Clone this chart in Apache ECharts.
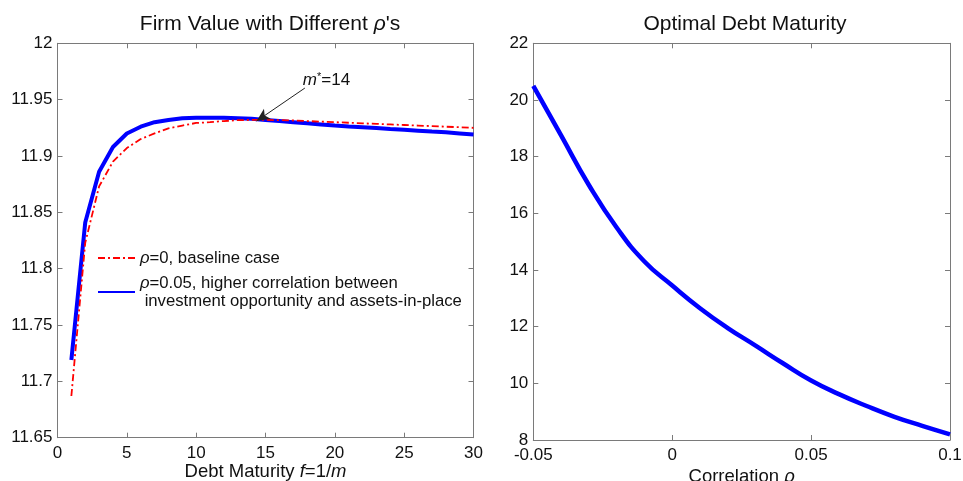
<!DOCTYPE html>
<html><head><meta charset="utf-8">
<script src="https://cdn.jsdelivr.net/npm/echarts@6/dist/echarts.min.js"></script>
<style>html,body{margin:0;padding:0;background:#fff}#c{width:963px;height:481px}</style>
</head><body><div id="c"></div>
<script>
// Left panel: firm value vs debt maturity m
const maturity = [1,2,3,4,5,6,7,8,9,10,11,12,13,14,15,16,17,18,19,20,21,22,23,24,25,26,27,28,29,30];
const firmValueRho0 = [11.687,11.823,11.873,11.895,11.907,11.915,11.920,11.9245,11.927,11.9293,11.930,11.931,11.9318,11.932,11.932,11.9318,11.9315,11.931,11.9305,11.930,11.9295,11.929,11.9285,11.928,11.9275,11.927,11.9265,11.926,11.9255,11.925];
const firmValueRho005 = [11.719,11.841,11.886,11.908,11.920,11.926,11.930,11.932,11.9335,11.934,11.934,11.934,11.9335,11.933,11.932,11.931,11.930,11.929,11.928,11.927,11.9262,11.9255,11.9248,11.924,11.9233,11.9225,11.9217,11.921,11.920,11.919];
// Right panel: optimal debt maturity vs correlation rho
const correlation = [-0.05,-0.04,-0.03,-0.02,-0.01,0,0.01,0.02,0.03,0.04,0.05,0.06,0.07,0.08,0.09,0.1];
const optimalMaturity = [20.5,18.75,17.0,15.5,14.3,13.45,12.65,11.95,11.33,10.7,10.1,9.62,9.2,8.82,8.5,8.2];
// Tick settings
const leftYTicks = {min:11.65, max:12, interval:0.05};
const leftXTicks = {min:0, max:30, interval:5};
const rightYTicks = {min:8, max:22, interval:2};
const rightXTicks = {min:-0.05, max:0.1, interval:0.05};
const annotation = {text:'m*=14', labelAt:[19.4, 11.9668], arrowFrom:[17.84, 11.9603], arrowTo:[14.36, 11.931]};

const FONT = '"Liberation Sans", Arial, sans-serif';
const AX = '#7a7a7a';
const fmt = v => String(parseFloat(v.toFixed(3)));
const lbl = {color:'#111', fontSize:17, fontFamily:FONT};

function mainX(grid, t, name, gap){
  return {type:'value', gridIndex:grid, min:t.min, max:t.max, interval:t.interval, position:'bottom',
    axisLine:{show:true, onZero:false, lineStyle:{color:AX, width:1}}, axisTick:{show:true, inside:true, length:5, lineStyle:{color:AX}},
    axisLabel:Object.assign({formatter:fmt, margin:7}, lbl), splitLine:{show:false},
    name:name, nameLocation:'middle', nameGap:gap, nameMoveOverlap:false,
    nameTextStyle:{color:'#111', fontSize:18.5, fontFamily:FONT, rich:{i:{fontStyle:'italic', fontSize:18.5, fontFamily:FONT, color:'#111'}}}};
}
function topX(grid, t){
  return {type:'value', gridIndex:grid, min:t.min, max:t.max, interval:t.interval, position:'top',
    axisLine:{show:true, onZero:false, lineStyle:{color:AX}}, axisTick:{show:true, inside:true, length:5, lineStyle:{color:AX}},
    axisLabel:{show:false}, splitLine:{show:false}};
}
function mainY(grid, t){
  return {type:'value', gridIndex:grid, min:t.min, max:t.max, interval:t.interval, position:'left',
    axisLine:{show:true, onZero:false, lineStyle:{color:AX}}, axisTick:{show:true, inside:true, length:5, lineStyle:{color:AX}},
    axisLabel:Object.assign({formatter:fmt, margin:5}, lbl), splitLine:{show:false}};
}
function rightY(grid, t){
  return {type:'value', gridIndex:grid, min:t.min, max:t.max, interval:t.interval, position:'right',
    axisLine:{show:true, onZero:false, lineStyle:{color:AX}}, axisTick:{show:true, inside:true, length:5, lineStyle:{color:AX}},
    axisLabel:{show:false}, splitLine:{show:false}};
}

const chart = echarts.init(document.getElementById('c'), null, {renderer:'canvas'});
chart.setOption({
  backgroundColor:'#fff',
  animation:false,
  title:[
    {text:'Firm Value with Different {i|ρ}\'s', left:265, top:9, textAlign:'center',
     textStyle:{fontSize:21, fontWeight:'normal', color:'#111', fontFamily:FONT, rich:{i:{fontStyle:'italic', fontSize:21, color:'#111', fontFamily:FONT}}}},
    {text:'Optimal Debt Maturity', left:740, top:9, textAlign:'center',
     textStyle:{fontSize:21, fontWeight:'normal', color:'#111', fontFamily:FONT}}
  ],
  grid:[
    {left:57.5, right:489.5, top:43.3, bottom:43.3, outerBoundsMode:'none', containLabel:false},
    {left:533.3, right:13, top:43.3, bottom:41, outerBoundsMode:'none', containLabel:false}
  ],
  legend:{
    orient:'vertical', left:97, top:249, padding:0, itemWidth:37, itemHeight:10, itemGap:7,
    data:['rho0','rho005'],
    itemStyle:{opacity:0},
    formatter: n => n==='rho0' ? '{i|ρ}=0, baseline case' : '{i|ρ}=0.05, higher correlation between\n investment opportunity and assets-in-place',
    textStyle:{fontSize:16.7, color:'#111', fontFamily:FONT, lineHeight:18, rich:{i:{fontStyle:'italic', fontSize:16.7, color:'#111', fontFamily:FONT, lineHeight:18}}}
  },
  xAxis:[
    mainX(0, leftXTicks, 'Debt Maturity {i|f}=1/{i|m}', 25),
    topX(0, leftXTicks),
    mainX(1, rightXTicks, 'Correlation {i|ρ}', 27),
    topX(1, rightXTicks)
  ],
  yAxis:[
    mainY(0, leftYTicks), rightY(0, leftYTicks),
    mainY(1, rightYTicks), rightY(1, rightYTicks)
  ],
  series:[
    {name:'rho0', type:'line', xAxisIndex:0, yAxisIndex:0, symbol:'none',
     data: maturity.map((m,i)=>[m, firmValueRho0[i]]),
     lineStyle:{color:'#ff0000', width:1.8, type:[7,3,2,3]}, itemStyle:{color:'#ff0000'}, z:3},
    {name:'rho005', type:'line', xAxisIndex:0, yAxisIndex:0, symbol:'none',
     data: maturity.map((m,i)=>[m, firmValueRho005[i]]),
     lineStyle:{color:'#0000ff', width:4}, itemStyle:{color:'#0000ff'}, z:2,
     markLine:{silent:true, symbol:['none','arrow'], symbolSize:[9,13], animation:false,
       lineStyle:{color:'#222', width:1, type:'solid'}, label:{show:false},
       data:[[{coord:annotation.arrowFrom}, {coord:annotation.arrowTo}]]},
     markPoint:{silent:true, symbol:'circle', symbolSize:0,
       data:[{coord:annotation.labelAt, value:annotation.text}],
       label:{show:true, position:'inside', formatter:'{i|m}{s|*}=14',
         rich:{i:{fontStyle:'italic', fontSize:17, color:'#111', fontFamily:FONT},
               s:{fontSize:11, color:'#111', fontFamily:FONT, verticalAlign:'top', padding:[0,0,8,0]}},
         fontSize:17, color:'#111', fontFamily:FONT}}
    },
    {name:'opt', type:'line', xAxisIndex:2, yAxisIndex:2, symbol:'none', smooth:true,
     data: correlation.map((r,i)=>[r, optimalMaturity[i]]),
     lineStyle:{color:'#0000ff', width:4.5}, itemStyle:{color:'#0000ff'}}
  ]
});
</script></body></html>
